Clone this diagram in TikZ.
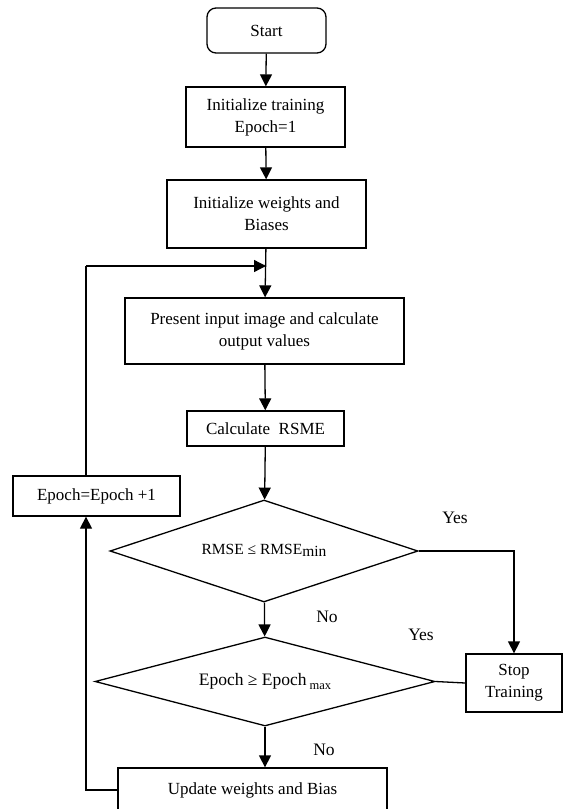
\documentclass[tikz,border=0pt]{standalone}
\usepackage{fontspec}
\setmainfont{Liberation Serif}
\usetikzlibrary{arrows.meta,shapes.geometric}

\begin{document}
\begin{tikzpicture}[x=1pt,y=-1pt,->,>={Triangle[length=12pt,width=12pt]},line width=1.3pt,
  box/.style={shape=rectangle,draw=black,align=center,inner sep=0pt,font=\fontsize{17}{22}\selectfont},
  dec/.style={shape=diamond,draw=black,inner sep=0pt,aspect=6,font=\fontsize{15.5}{18}\selectfont},
  lbl/.style={font=\fontsize{17.5}{20}\selectfont}]
\useasboundingbox (0,0) rectangle (563,809);
\clip (0,0) rectangle (563,809);
\node[box, rounded corners=9pt, minimum width=119pt, minimum height=45pt] (S) at (266.5,30.5) {Start};
\node[box, minimum width=159pt, minimum height=60pt] (IT) at (265.5,117) {Initialize training\\Epoch=1};
\node[box, minimum width=199pt, minimum height=68pt] (IW) at (266.5,214) {Initialize weights and\\Biases};
\node[box, minimum width=279pt, minimum height=66pt] (P) at (264.5,331) {Present input image and calculate\\output values};
\node[box, minimum width=157pt, minimum height=35pt] (C) at (265.5,428.5) {Calculate\ \ RSME};
\node[dec, minimum width=308pt, minimum height=102pt] (D1) at (264,551) {\raisebox{4pt}{RMSE ≤ RMSE\raisebox{-2.5pt}{min}}};
\node[dec, minimum width=340pt, minimum height=89pt, font=\fontsize{17.5}{20}\selectfont] (D2) at (265,681.5) {Epoch ≥ Epoch\,\raisebox{-3.5pt}{\fontsize{12.5}{14}\selectfont max}};
\node[box, minimum width=96pt, minimum height=58pt] (St) at (514,683) {Stop\\Training};
\node[box, minimum width=269pt, minimum height=44pt] (U) at (252.5,790) {Update weights and Bias};
\node[box, minimum width=167pt, minimum height=40pt] (E) at (96.5,496) {Epoch=Epoch +1};
\node[lbl] (Y1) at (455,518) {Yes};
\node[lbl] (N1) at (327,617) {No};
\node[lbl] (Y2) at (421,635) {Yes};
\node[lbl] (N2) at (324,750) {No};
\coordinate (J) at (266,266);
\coordinate (K) at (86,266);
\draw (S) -- (IT);
\draw (IT) -- (IW);
\draw (IW) -- (P);
\draw[-] ([xshift=-10.5pt]E.north) -- (K);
\draw (K) -- (J);
\draw (P) -- (C);
\draw (C) -- (D1);
\draw (D1) -- (D2);
\draw (D2) -- (D2 |- U.north);
\draw (D1.east) -| (St.north);
\draw[-] (D2.east) -- (St.west);
\draw (U.west) -| ([xshift=-10.5pt]E.south);
\end{tikzpicture}
\end{document}
